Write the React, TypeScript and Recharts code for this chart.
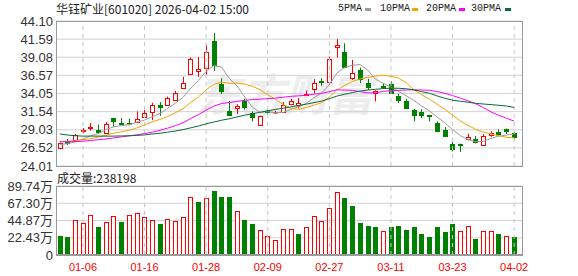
import { ComposedChart, Bar, Line, XAxis, YAxis, CartesianGrid, ReferenceLine } from "recharts";

const dates = [
  "12-30", "12-31", "01-05", "01-06", "01-07", "01-08", "01-09", "01-12", "01-13", "01-14",
  "01-15", "01-16", "01-19", "01-20", "01-21", "01-22", "01-23", "01-26", "01-27", "01-28",
  "01-29", "01-30", "02-02", "02-03", "02-04", "02-05", "02-06", "02-09", "02-10", "02-11",
  "02-12", "02-13", "02-24", "02-25", "02-26", "02-27", "03-02", "03-03", "03-04", "03-05",
  "03-06", "03-09", "03-10", "03-11", "03-12", "03-13", "03-16", "03-17", "03-18", "03-19",
  "03-20", "03-23", "03-24", "03-25", "03-26", "03-27", "03-30", "03-31", "04-01", "04-02",
];

const opens = [
  26.5, 27.38, 27.61, 28.81, 29.22, 29.04, 28.62, 30.65, 30.0, 30.0,
  30.05, 30.79, 31.48, 32.4, 32.45, 33.14, 34.79, 36.73, 37.24, 37.65,
  41.34, 35.35, 31.62, 31.98, 33.0, 31.34, 29.7, 31.66, 31.43, 31.52,
  32.63, 32.4, 33.78, 34.66, 35.85, 35.71, 40.46, 39.77, 36.18, 37.33,
  35.49, 34.15, 35.16, 35.39, 33.74, 33.04, 31.71, 31.48, 31.02, 29.96,
  28.94, 27.1, 27.06, 27.79, 27.79, 26.87, 28.25, 28.76, 29.17, 28.53,
];
const highs = [
  27.25, 27.75, 28.44, 29.27, 29.96, 29.73, 30.1, 30.7, 30.65, 30.56,
  31.57, 31.85, 32.77, 32.86, 33.64, 34.43, 36.36, 39.03, 39.13, 40.78,
  42.44, 36.18, 33.04, 32.58, 33.35, 31.57, 31.0, 31.85, 31.66, 32.86,
  33.32, 33.4, 34.47, 36.04, 36.18, 39.17, 41.61, 41.01, 38.71, 37.65,
  36.09, 34.5, 35.49, 35.72, 34.01, 33.32, 31.89, 31.89, 31.05, 30.19,
  29.4, 27.75, 27.1, 28.48, 28.16, 28.44, 28.81, 29.08, 29.2, 28.71,
];
const lows = [
  26.32, 26.92, 27.55, 28.53, 28.9, 28.48, 28.48, 29.45, 29.64, 29.73,
  30.0, 30.75, 30.37, 30.97, 32.4, 33.1, 34.7, 36.64, 36.36, 36.64,
  37.19, 33.97, 31.05, 31.2, 31.8, 30.19, 29.54, 31.29, 31.29, 31.45,
  32.6, 32.0, 33.7, 34.1, 35.12, 35.65, 39.03, 37.56, 35.95, 35.49,
  34.56, 32.95, 34.7, 34.0, 32.72, 31.94, 30.19, 30.65, 30.19, 28.7,
  28.05, 26.04, 25.95, 27.56, 27.15, 26.78, 28.07, 28.25, 28.44, 27.79,
];
const closes = [
  27.19, 27.15, 28.25, 29.04, 29.36, 28.76, 29.87, 30.19, 29.87, 29.92,
  30.51, 31.39, 32.49, 32.21, 33.41, 34.06, 35.49, 38.85, 37.47, 39.77,
  38.02, 34.43, 31.11, 32.31, 32.12, 30.83, 30.97, 31.48, 31.52, 32.4,
  32.95, 32.67, 33.92, 35.48, 35.58, 38.8, 40.78, 37.79, 36.87, 36.09,
  34.98, 34.43, 34.98, 34.1, 33.18, 32.03, 31.11, 31.06, 30.88, 28.81,
  28.11, 26.41, 26.96, 28.07, 27.38, 28.21, 28.62, 28.44, 28.81, 28.07,
];
// close of the day before the first candle
const prevClose = 27.6;

// volume, in 万
const volumes = [
  24.7, 23.4, 45.0, 41.6, 52.0, 36.4, 42.9, 50.7, 42.9, 52.0,
  54.6, 49.4, 45.5, 40.7, 46.4, 44.2, 49.4, 75.4, 68.9, 74.1,
  83.2, 75.8, 75.8, 57.2, 45.5, 40.7, 32.1, 24.7, 19.5, 33.8,
  33.8, 27.3, 36.0, 50.7, 43.8, 60.7, 81.5, 74.1, 63.7, 41.6,
  37.7, 36.4, 30.8, 36.4, 37.7, 32.5, 36.4, 27.3, 23.4, 36.4,
  29.9, 40.3, 30.8, 37.3, 20.8, 30.8, 30.8, 27.3, 24.3, 23.82,
];

const ma5 = [
  27.0, 27.1, 27.35, 27.75, 28.2, 28.51, 29.06, 29.44, 29.61, 29.72,
  30.07, 30.38, 30.84, 31.3, 32.0, 32.71, 33.53, 34.8, 35.86, 37.13,
  37.92, 37.71, 36.16, 35.13, 33.6, 32.16, 31.47, 31.54, 31.38, 31.44,
  31.86, 32.2, 32.69, 33.48, 34.12, 35.29, 36.91, 37.69, 37.96, 38.07,
  37.3, 36.03, 35.47, 34.92, 34.33, 33.74, 33.08, 32.3, 31.65, 30.78,
  29.99, 29.05, 28.23, 27.67, 27.39, 27.41, 27.85, 28.14, 28.29, 28.43,
];
const ma10 = [
  27.4, 27.45, 27.5, 27.65, 27.8, 28.0, 28.3, 28.55, 28.75, 28.96,
  29.29, 29.72, 30.14, 30.46, 30.86, 31.39, 31.95, 32.82, 33.58, 34.57,
  35.32, 35.62, 35.48, 35.49, 35.36, 35.04, 34.59, 33.85, 33.26, 32.52,
  32.01, 31.84, 32.12, 32.43, 32.78, 33.58, 34.56, 35.19, 35.72, 36.09,
  36.3, 36.47, 36.58, 36.44, 36.2, 35.52, 34.56, 33.88, 33.28, 32.56,
  31.87, 31.07, 30.27, 29.66, 29.08, 28.7, 28.45, 28.19, 27.98, 27.91,
];
const ma20 = [
  27.38, 27.38, 27.4, 27.45, 27.55, 27.65, 27.75, 27.9, 28.05, 28.19,
  28.33, 28.5, 28.7, 28.95, 29.25, 29.6, 30.0, 30.6, 31.12, 31.76,
  32.3, 32.67, 32.81, 32.97, 33.11, 33.22, 33.27, 33.34, 33.42, 33.54,
  33.66, 33.73, 33.8, 33.96, 34.07, 34.31, 34.57, 34.52, 34.49, 34.31,
  34.15, 34.15, 34.35, 34.44, 34.49, 34.55, 34.56, 34.54, 34.5, 34.32,
  34.08, 33.77, 33.42, 33.05, 32.64, 32.11, 31.5, 31.04, 30.63, 30.23,
];
const ma30 = [
  28.45, 28.3, 28.2, 28.15, 28.15, 28.15, 28.15, 28.15, 28.18, 28.2,
  28.25, 28.32, 28.45, 28.55, 28.7, 28.85, 29.05, 29.3, 29.55, 29.85,
  30.1, 30.35, 30.55, 30.8, 31.05, 31.25, 31.45, 31.65, 31.85, 32.01,
  32.21, 32.39, 32.58, 32.79, 33.0, 33.34, 33.7, 33.95, 34.19, 34.39,
  34.54, 34.64, 34.73, 34.79, 34.78, 34.71, 34.57, 34.31, 34.09, 33.72,
  33.39, 33.13, 32.99, 32.85, 32.69, 32.6, 32.52, 32.42, 32.33, 32.13,
];

const priceTicks = [24.01, 26.52, 29.03, 31.54, 34.05, 36.57, 39.08, 41.59, 44.1];
const volTicks = [0, 22.43, 44.87, 67.3, 89.74];
const dateTicks = ["01-06", "01-16", "01-28", "02-09", "02-27", "03-11", "03-23", "04-02"];

const RED = "#ff0000";
const GREEN = "#008000";
const GRID = "#d2d2d2";
const BORDER = "#9a9a9a";

const rows = dates.map((date, i) => ({
  date,
  o: opens[i],
  h: highs[i],
  l: lows[i],
  c: closes[i],
  range: [lows[i], highs[i]],
  vol: volumes[i],
  volUp: closes[i] >= (i === 0 ? prevClose : closes[i - 1]),
  ma5: ma5[i],
  ma10: ma10[i],
  ma20: ma20[i],
  ma30: ma30[i],
}));

const Candle = (props: any) => {
  let { x, y, width, height } = props;
  const { o, h, l, c } = props.payload;
  if (height < 0) {
    y += height;
    height = -height;
  }
  const span = h - l || 1;
  const py = (v: number) => y + ((h - v) / span) * height;
  const up = c >= o;
  const color = up ? RED : GREEN;
  const cx = Math.round(x + width / 2) + 0.5;
  const top = Math.round(py(Math.max(o, c))) + 0.5;
  const bot = Math.round(py(Math.min(o, c))) + 0.5;
  return (
    <g>
      <line x1={cx} x2={cx} y1={y} y2={y + height} stroke={color} strokeWidth={1} />
      <rect
        x={cx - 2}
        y={top}
        width={4}
        height={Math.max(bot - top, 0.5)}
        fill={up ? "#ffffff" : color}
        stroke={color}
        strokeWidth={1}
      />
    </g>
  );
};

const VolBar = (props: any) => {
  const { x, y, width, height, payload } = props;
  const color = payload.volUp ? RED : GREEN;
  const cx = Math.round(x + width / 2) + 0.5;
  const top = Math.round(y) + 0.5;
  const bot = Math.round(y + height) - 0.5;
  return (
    <rect
      x={cx - 2}
      y={top}
      width={4}
      height={Math.max(bot - top, 0.5)}
      fill={payload.volUp ? "#ffffff" : color}
      stroke={color}
      strokeWidth={1}
    />
  );
};

const axisTick = { fontSize: 13, fill: "#333", fontFamily: "'Liberation Sans', 'Noto Sans CJK SC', sans-serif" };

const legendItems = [
  { label: "5PMA", color: "#9c9c9c", left: 338, dash: 365 },
  { label: "10PMA", color: "#f5a300", left: 380, dash: 412 },
  { label: "20PMA", color: "#ff00ff", left: 426, dash: 459 },
  { label: "30PMA", color: "#0a6b35", left: 471, dash: 505 },
];

export default function App() {
  return (
    <div
      style={{
        position: "absolute",
        left: 0,
        top: 0,
        width: 578,
        height: 276,
        background: "#fff",
        overflow: "hidden",
        fontFamily: "'Noto Sans CJK SC', sans-serif",
      }}
    >
      {/* watermark */}
      <div
        style={{
          position: "absolute",
          left: 197,
          top: 70,
          fontSize: 44,
          lineHeight: "44px",
          fontWeight: 700,
          fontStyle: "italic",
          color: "#ededed",
          whiteSpace: "nowrap",
        }}
      >
        东方财富
      </div>

      <div style={{ position: "absolute", left: 0, top: 0 }}>
        <ComposedChart width={578} height={180} data={rows} margin={{ top: 21, right: 56, bottom: 14, left: 0 }}>
          <CartesianGrid vertical={false} stroke={GRID} />
          <XAxis dataKey="date" hide padding={{ left: 0, right: 4 }} />
          <YAxis
            domain={[24.01, 44.1]}
            ticks={priceTicks}
            interval={0}
            width={56}
            tickSize={0}
            tickMargin={3}
            axisLine={false}
            tickLine={false}
            tick={axisTick}
            tickFormatter={(v: number) => v.toFixed(2)}
          />
          {dateTicks.map((d) => (
            <ReferenceLine key={d} x={d} stroke="#c4c4c4" strokeDasharray="4 4" />
          ))}
          <Line dataKey="ma5" stroke="#9c9c9c" dot={false} strokeWidth={1} isAnimationActive={false} />
          <Line dataKey="ma10" stroke="#f5a300" dot={false} strokeWidth={1} isAnimationActive={false} />
          <Line dataKey="ma20" stroke="#ff00ff" dot={false} strokeWidth={1} isAnimationActive={false} />
          <Line dataKey="ma30" stroke="#0a6b35" dot={false} strokeWidth={1} isAnimationActive={false} />
          <Bar dataKey="range" barSize={5} shape={(p: any) => <Candle {...p} />} isAnimationActive={false} />
        </ComposedChart>
      </div>

      <div style={{ position: "absolute", left: 0, top: 180 }}>
        <ComposedChart width={578} height={96} data={rows} margin={{ top: 6, right: 56, bottom: 0, left: 0 }}>
          <CartesianGrid vertical={false} stroke={GRID} />
          <XAxis
            dataKey="date"
            ticks={dateTicks}
            interval={0}
            height={21}
            tickSize={0}
            tickMargin={8}
            axisLine={false}
            tickLine={false}
            padding={{ left: 0, right: 4 }}
            tick={{ fontSize: 11, fill: RED, fontFamily: "'Liberation Sans', sans-serif" }}
          />
          <YAxis
            domain={[0, 89.74]}
            ticks={volTicks}
            interval={0}
            width={56}
            tickSize={0}
            tickMargin={3}
            axisLine={false}
            tickLine={false}
            tick={axisTick}
            tickFormatter={(v: number) => (v === 0 ? "0" : v.toFixed(2) + "万")}
          />
          {dateTicks.map((d) => (
            <ReferenceLine key={d} x={d} stroke="#c4c4c4" strokeDasharray="4 4" />
          ))}
          <Bar dataKey="vol" barSize={5} shape={(p: any) => <VolBar {...p} />} isAnimationActive={false} />
        </ComposedChart>
      </div>

      {/* plot borders */}
      <div
        style={{
          position: "absolute",
          left: 56,
          top: 21,
          width: 467,
          height: 146,
          border: `1px solid ${BORDER}`,
          boxSizing: "border-box",
          pointerEvents: "none",
        }}
      />
      <div
        style={{
          position: "absolute",
          left: 56,
          top: 186,
          width: 467,
          height: 70,
          border: `1px solid ${BORDER}`,
          borderBottomWidth: 2,
          boxSizing: "border-box",
          pointerEvents: "none",
        }}
      />

      {/* title */}
      <div style={{ position: "absolute", left: 56, top: 0, fontSize: 12, lineHeight: "17px", color: "#222", whiteSpace: "nowrap" }}>
        华钰矿业[601020] 2026-04-02 15:00
      </div>

      {/* legend */}
      {legendItems.map((it) => (
        <div key={it.label}>
          <div
            style={{
              position: "absolute",
              left: it.left,
              top: 1,
              fontSize: 10,
              lineHeight: "16px",
              color: "#222",
              fontFamily: "'Liberation Mono', monospace",
              whiteSpace: "nowrap",
            }}
          >
            {it.label}
          </div>
          <div style={{ position: "absolute", left: it.dash, top: 8, width: 6, height: 3, background: it.color }} />
        </div>
      ))}

      {/* volume label */}
      <div style={{ position: "absolute", left: 57, top: 170, fontSize: 12, lineHeight: "16px", color: "#222", whiteSpace: "nowrap" }}>
        成交量:238198
      </div>
    </div>
  );
}
